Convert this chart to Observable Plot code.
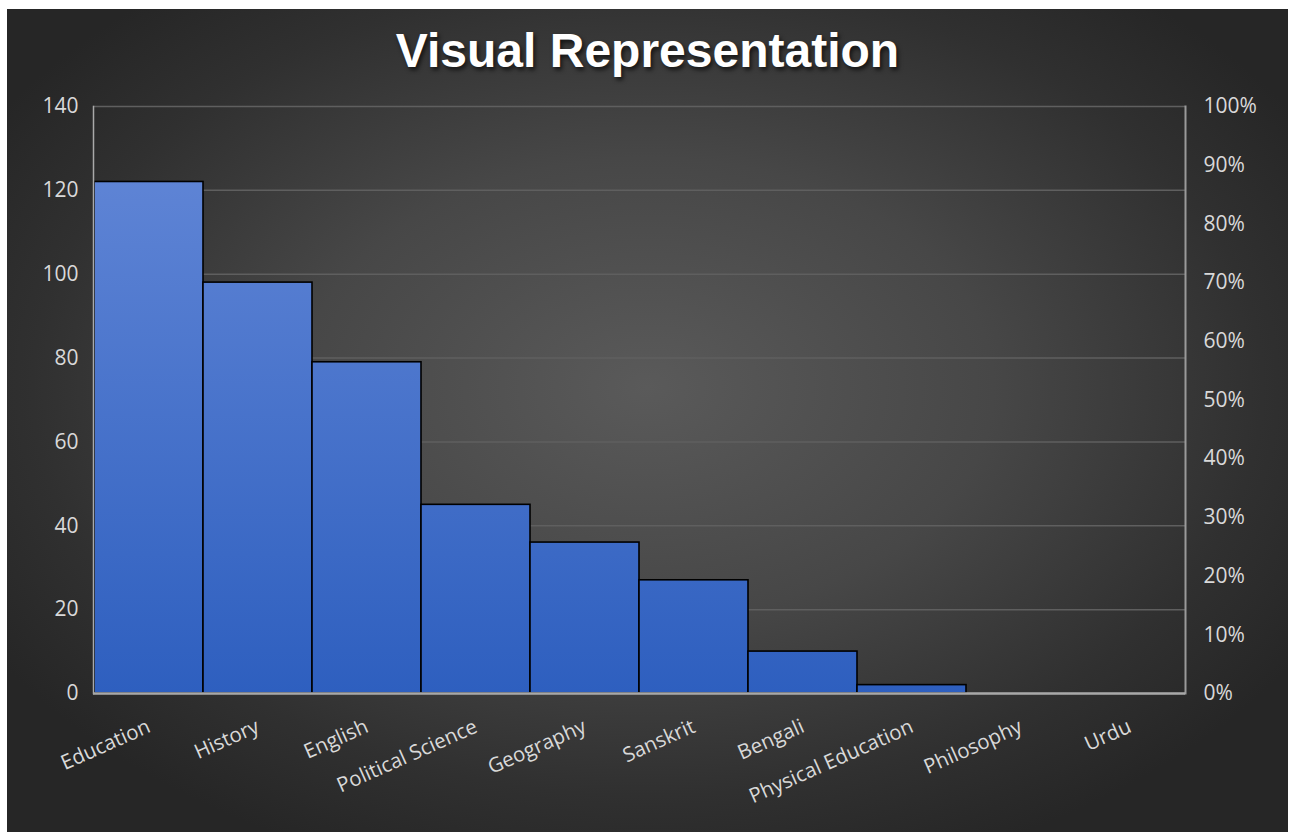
<!DOCTYPE html>
<html>
<head>
<meta charset="utf-8">
<script src="https://cdn.jsdelivr.net/npm/d3@7"></script>
<script src="https://cdn.jsdelivr.net/npm/@observablehq/plot@0.6"></script>
<style>
  html, body { margin: 0; padding: 0; background: #ffffff; }
  body { width: 1293px; height: 832px; position: relative; overflow: hidden; }
  #frame {
    position: absolute; left: 7px; top: 9px; width: 1281px; height: 823px;
    background: radial-gradient(ellipse 60% 62% at 50% 46%, #5a5a5a 0%, #474747 45%, #303030 80%, #262626 100%);
    overflow: hidden;
  }
  #title {
    position: absolute; left: 0; top: 14px; width: 1281px; text-align: center;
    font-family: "Liberation Sans", Arial, sans-serif; font-weight: bold; font-size: 48px;
    color: #ffffff; text-shadow: 2px 3px 4px rgba(0,0,0,0.65); line-height: 56px;
  }
  #chart { position: absolute; left: 0; top: 81px; }
</style>
</head>
<body>
<div id="frame">
  <div id="title">Visual Representation</div>
  <div id="chart"></div>
</div>
<script>
const subjects = ["Education", "History", "English", "Political Science", "Geography", "Sanskrit", "Bengali", "Physical Education", "Philosophy", "Urdu"];
const counts = [122, 98, 79, 45, 36, 27, 10, 2, 0, 0];
const leftTicks = [0, 20, 40, 60, 80, 100, 120, 140];
const percentTicks = [0, 10, 20, 30, 40, 50, 60, 70, 80, 90, 100];
const yMax = 140;

const data = subjects.map((s, i) => ({subject: s, count: counts[i]}));
const rightTickValues = percentTicks.map(p => p / 100 * yMax);

const chart = Plot.plot({
  width: 1281,
  height: 742,
  marginLeft: 86,
  marginRight: 103,
  marginTop: 16,
  marginBottom: 139,
  style: {fontFamily: "'Open Sans', sans-serif", fontSize: "21px", color: "#d9d9d9", background: "transparent", overflow: "visible"},
  x: {domain: subjects, padding: 0, axis: null},
  y: {domain: [0, yMax], axis: null},
  marks: [
    Plot.gridY(leftTicks, {stroke: "#5f5f5f", strokeOpacity: 1, strokeWidth: 1.5}),
    Plot.barY(data, {x: "subject", y: "count", fill: "url(#barGrad)", stroke: "#000000", strokeWidth: 1.6}),
    Plot.frame({anchor: "left", stroke: "#a9a9a9", strokeWidth: 1.5}),
    Plot.frame({anchor: "right", stroke: "#9a9a9a", strokeWidth: 2}),
    Plot.ruleY([0], {stroke: "#a8a8a8", strokeWidth: 2.5}),
    Plot.axisY(leftTicks, {anchor: "left", tickSize: 0, tickPadding: 15, label: null, fill: "#d9d9d9", fontSize: 21}),
    Plot.axisY(rightTickValues, {anchor: "right", tickSize: 0, tickPadding: 18, label: null, fill: "#d9d9d9", fontSize: 21,
      tickFormat: d => Math.round(d / yMax * 100) + "%"}),
    Plot.axisX({tickSize: 0, tickPadding: 32, tickRotate: -24, label: null, fontSize: 20.5, fill: "#d9d9d9"})
  ]
});

const ys = chart.scale("y");
const yTop = ys.apply(yMax), yBot = ys.apply(0);
const svg = d3.select(chart);
const defs = svg.insert("defs", ":first-child");
const grad = defs.append("linearGradient")
  .attr("id", "barGrad")
  .attr("gradientUnits", "userSpaceOnUse")
  .attr("x1", 0).attr("x2", 0)
  .attr("y1", yTop).attr("y2", yBot);
grad.append("stop").attr("offset", "0%").attr("stop-color", "#6589d8");
grad.append("stop").attr("offset", "100%").attr("stop-color", "#2e5fbf");

document.getElementById("chart").appendChild(chart);
</script>
</body>
</html>
